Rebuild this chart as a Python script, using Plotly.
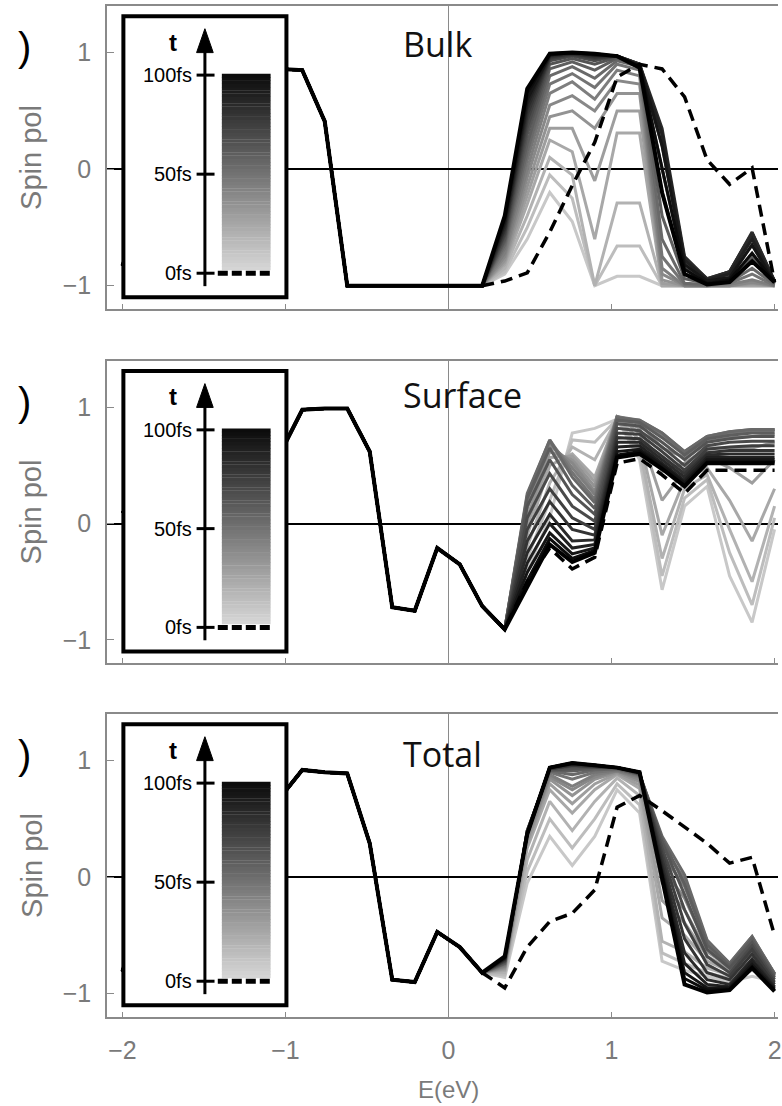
import plotly.graph_objects as go

# ---------------- data ----------------
E = [-2.0, -1.862, -1.724, -1.586, -1.448, -1.310, -1.172, -1.034, -0.897, -0.759,
     -0.621, -0.483, -0.345, -0.207, -0.069, 0.069, 0.207, 0.345, 0.483, 0.621,
     0.759, 0.897, 1.034, 1.172, 1.310, 1.448, 1.586, 1.724, 1.862, 2.0]

# common part (E <= 0.207), identical for all times
bulk_left = [-0.83, -0.30, 0.35, 0.70, 0.90, 0.93, 0.90, 0.86, 0.85, 0.41,
             -1.0, -1.0, -1.0, -1.0, -1.0, -1.0, -1.0]
surf_left = [0.09, 0.30, 0.55, 0.40, 0.20, 0.35, 0.50, 0.60, 0.98, 0.99,
             0.99, 0.62, -0.72, -0.75, -0.21, -0.35, -0.71]
tot_left = [-0.81, -0.20, 0.30, 0.50, 0.40, 0.50, 0.60, 0.68, 0.92, 0.90,
            0.89, 0.29, -0.88, -0.90, -0.47, -0.60, -0.82]

# time-dependent part (E = 0.345 ... 2.0), one row per time (fs)
times = [0, 5, 10, 15, 20, 25, 30, 35, 40, 45, 50, 55, 60, 65, 70, 75, 80, 85, 90, 95, 100]

bulk_right = [
    [-0.96, -0.89, -0.54, -0.14, 0.23, 0.79, 0.90, 0.86, 0.62, 0.08, -0.13, 0.01, -0.97],
    [-0.90, -0.60, -0.20, -0.45, -1.00, -0.92, -0.92, -1.00, -1.00, -1.00, -1.00, -1.00, -1.00],
    [-0.88, -0.50, -0.05, -0.25, -1.00, -0.66, -0.66, -1.00, -1.00, -1.00, -1.00, -1.00, -1.00],
    [-0.85, -0.40, 0.10, -0.05, -1.00, -0.29, -0.29, -1.00, -1.00, -1.00, -1.00, -1.00, -1.00],
    [-0.82, -0.30, 0.25, 0.15, -0.60, 0.31, 0.31, -1.00, -1.00, -1.00, -1.00, -1.00, -1.00],
    [-0.80, -0.22, 0.35, 0.35, -0.10, 0.50, 0.50, -0.98, -1.00, -1.00, -1.00, -0.99, -1.00],
    [-0.78, -0.15, 0.45, 0.50, 0.35, 0.65, 0.65, -0.95, -1.00, -1.00, -1.00, -0.98, -1.00],
    [-0.75, -0.07, 0.55, 0.63, 0.50, 0.76, 0.73, -0.90, -1.00, -1.00, -1.00, -0.97, -1.00],
    [-0.72, 0.00, 0.65, 0.75, 0.60, 0.85, 0.80, -0.85, -1.00, -1.00, -0.99, -0.95, -1.00],
    [-0.68, 0.08, 0.73, 0.82, 0.70, 0.90, 0.85, -0.75, -0.99, -1.00, -0.98, -0.90, -1.00],
    [-0.65, 0.15, 0.80, 0.88, 0.78, 0.93, 0.88, -0.60, -0.98, -0.99, -0.97, -0.85, -0.99],
    [-0.62, 0.22, 0.86, 0.92, 0.85, 0.95, 0.89, -0.40, -0.94, -0.98, -0.95, -0.75, -0.98],
    [-0.60, 0.30, 0.90, 0.95, 0.90, 0.96, 0.90, -0.20, -0.90, -0.97, -0.93, -0.65, -0.98],
    [-0.57, 0.36, 0.93, 0.97, 0.93, 0.97, 0.90, 0.00, -0.85, -0.96, -0.90, -0.58, -0.97],
    [-0.55, 0.42, 0.95, 0.98, 0.95, 0.97, 0.90, 0.20, -0.80, -0.95, -0.88, -0.55, -0.97],
    [-0.52, 0.47, 0.96, 0.99, 0.96, 0.97, 0.90, 0.30, -0.77, -0.94, -0.88, -0.54, -0.96],
    [-0.50, 0.52, 0.97, 0.99, 0.97, 0.97, 0.90, 0.35, -0.75, -0.94, -0.88, -0.55, -0.96],
    [-0.47, 0.56, 0.98, 1.00, 0.98, 0.97, 0.89, 0.30, -0.78, -0.95, -0.90, -0.60, -0.96],
    [-0.45, 0.60, 0.98, 1.00, 0.98, 0.97, 0.89, 0.20, -0.82, -0.96, -0.93, -0.65, -0.97],
    [-0.42, 0.65, 0.99, 1.00, 0.99, 0.97, 0.88, 0.00, -0.86, -0.98, -0.95, -0.72, -0.97],
    [-0.40, 0.69, 0.99, 1.00, 0.99, 0.97, 0.87, -0.20, -0.90, -0.99, -0.97, -0.79, -0.97],
]

surf_right = [
    [-0.91, -0.50, -0.21, -0.39, -0.29, 0.52, 0.56, 0.42, 0.26, 0.46, 0.46, 0.46, 0.46],
    [-0.91, -0.40, 0.05, 0.78, 0.82, 0.90, 0.55, -0.57, 0.15, 0.32, -0.45, -0.85, -0.05],
    [-0.91, -0.30, 0.20, 0.72, 0.70, 0.90, 0.60, -0.45, 0.22, 0.38, -0.25, -0.70, 0.05],
    [-0.91, -0.20, 0.35, 0.66, 0.55, 0.90, 0.65, -0.30, 0.30, 0.42, -0.05, -0.50, 0.15],
    [-0.91, -0.10, 0.50, 0.60, 0.40, 0.91, 0.72, -0.10, 0.38, 0.48, 0.20, -0.15, 0.30],
    [-0.91, -0.02, 0.57, 0.58, 0.36, 0.92, 0.78, 0.20, 0.46, 0.57, 0.48, 0.35, 0.55],
    [-0.91, 0.05, 0.62, 0.55, 0.32, 0.92, 0.82, 0.45, 0.52, 0.65, 0.65, 0.65, 0.70],
    [-0.91, 0.13, 0.67, 0.52, 0.28, 0.92, 0.86, 0.65, 0.57, 0.71, 0.74, 0.75, 0.77],
    [-0.91, 0.20, 0.70, 0.48, 0.25, 0.92, 0.88, 0.75, 0.60, 0.74, 0.78, 0.80, 0.80],
    [-0.91, 0.24, 0.72, 0.44, 0.21, 0.92, 0.89, 0.78, 0.62, 0.75, 0.79, 0.81, 0.81],
    [-0.91, 0.26, 0.72, 0.40, 0.18, 0.91, 0.89, 0.78, 0.62, 0.75, 0.79, 0.81, 0.81],
    [-0.91, 0.22, 0.65, 0.33, 0.13, 0.89, 0.87, 0.74, 0.59, 0.73, 0.76, 0.78, 0.78],
    [-0.91, 0.15, 0.55, 0.25, 0.08, 0.86, 0.84, 0.70, 0.55, 0.70, 0.73, 0.75, 0.75],
    [-0.91, 0.05, 0.43, 0.15, 0.02, 0.82, 0.80, 0.66, 0.50, 0.67, 0.70, 0.71, 0.71],
    [-0.91, -0.05, 0.30, 0.05, -0.05, 0.78, 0.77, 0.62, 0.46, 0.64, 0.66, 0.67, 0.67],
    [-0.91, -0.15, 0.19, -0.05, -0.10, 0.74, 0.73, 0.58, 0.43, 0.61, 0.63, 0.63, 0.63],
    [-0.91, -0.25, 0.08, -0.15, -0.14, 0.70, 0.70, 0.55, 0.40, 0.59, 0.60, 0.60, 0.60],
    [-0.91, -0.34, 0.00, -0.21, -0.18, 0.66, 0.67, 0.52, 0.37, 0.57, 0.57, 0.57, 0.57],
    [-0.91, -0.42, -0.08, -0.26, -0.21, 0.62, 0.64, 0.50, 0.35, 0.55, 0.55, 0.55, 0.55],
    [-0.91, -0.49, -0.13, -0.30, -0.23, 0.59, 0.62, 0.48, 0.33, 0.53, 0.53, 0.53, 0.53],
    [-0.91, -0.55, -0.18, -0.33, -0.25, 0.57, 0.60, 0.47, 0.32, 0.52, 0.52, 0.52, 0.52],
]

tot_right = [
    [-0.95, -0.60, -0.38, -0.31, -0.11, 0.60, 0.70, 0.57, 0.43, 0.29, 0.12, 0.17, -0.50],
    [-0.86, -0.05, 0.35, 0.10, 0.35, 0.75, 0.55, -0.72, -0.80, -0.85, -0.90, -0.85, -0.90],
    [-0.84, 0.05, 0.50, 0.25, 0.50, 0.80, 0.62, -0.65, -0.74, -0.82, -0.87, -0.80, -0.88],
    [-0.82, 0.15, 0.65, 0.40, 0.65, 0.85, 0.70, -0.55, -0.64, -0.78, -0.84, -0.72, -0.87],
    [-0.80, 0.25, 0.75, 0.55, 0.75, 0.88, 0.76, -0.35, -0.50, -0.72, -0.81, -0.64, -0.86],
    [-0.79, 0.29, 0.80, 0.63, 0.80, 0.89, 0.79, -0.20, -0.39, -0.68, -0.79, -0.60, -0.85],
    [-0.78, 0.32, 0.84, 0.70, 0.84, 0.90, 0.82, -0.05, -0.28, -0.64, -0.77, -0.56, -0.84],
    [-0.77, 0.35, 0.86, 0.75, 0.86, 0.91, 0.84, 0.08, -0.18, -0.60, -0.76, -0.54, -0.83],
    [-0.76, 0.38, 0.88, 0.78, 0.88, 0.91, 0.86, 0.20, -0.08, -0.56, -0.75, -0.52, -0.83],
    [-0.75, 0.39, 0.90, 0.84, 0.90, 0.92, 0.87, 0.28, -0.02, -0.55, -0.74, -0.51, -0.83],
    [-0.74, 0.40, 0.91, 0.88, 0.92, 0.93, 0.88, 0.35, 0.02, -0.54, -0.74, -0.51, -0.83],
    [-0.74, 0.40, 0.92, 0.91, 0.93, 0.93, 0.88, 0.33, -0.06, -0.58, -0.76, -0.53, -0.84],
    [-0.73, 0.40, 0.92, 0.93, 0.94, 0.94, 0.89, 0.30, -0.15, -0.62, -0.78, -0.56, -0.86],
    [-0.72, 0.39, 0.93, 0.95, 0.94, 0.94, 0.89, 0.25, -0.28, -0.68, -0.82, -0.59, -0.88],
    [-0.72, 0.39, 0.93, 0.96, 0.95, 0.94, 0.89, 0.20, -0.40, -0.75, -0.85, -0.62, -0.90],
    [-0.71, 0.38, 0.93, 0.96, 0.95, 0.94, 0.90, 0.15, -0.53, -0.82, -0.88, -0.66, -0.92],
    [-0.70, 0.38, 0.94, 0.97, 0.96, 0.94, 0.90, 0.10, -0.65, -0.88, -0.92, -0.70, -0.94],
    [-0.70, 0.37, 0.94, 0.97, 0.96, 0.94, 0.90, 0.06, -0.74, -0.92, -0.94, -0.72, -0.95],
    [-0.69, 0.37, 0.94, 0.98, 0.96, 0.94, 0.90, 0.03, -0.82, -0.95, -0.95, -0.75, -0.96],
    [-0.69, 0.37, 0.94, 0.98, 0.96, 0.94, 0.90, 0.00, -0.87, -0.97, -0.96, -0.77, -0.97],
    [-0.68, 0.37, 0.94, 0.98, 0.96, 0.94, 0.90, -0.03, -0.92, -0.99, -0.97, -0.78, -0.98],
]

titles = ["Bulk", "Surface", "Total"]
title_y = [1.07, 1.11, 1.06]
x_ticks = [-2, -1, 0, 1, 2]
x_ticktext = ["\u22122", "\u22121", "0", "1", "2"]
y_ticks = [-1, 0, 1]
y_ticktext = ["\u22121", "0", "1"]
legend_ticks = [0, 50, 100]
legend_labels = ["0fs", "50fs", "100fs"]

# ---------------- figure ----------------
GRAY_AX = "#8a8a8a"
TXT_GRAY = "#7a7a7a"


def gray_for(t):
    v = int(round(210 * (1 - t / 100.0)))
    return f"rgb({v},{v},{v})"


fig = go.Figure()
panels = [(bulk_left, bulk_right), (surf_left, surf_right), (tot_left, tot_right)]
domains = [[0.7003, 1.0], [0.3501, 0.6489], [0.0, 0.2997]]

for i, (left, right) in enumerate(panels):
    xa = "x" if i == 0 else f"x{i+1}"
    ya = "y" if i == 0 else f"y{i+1}"
    # intermediate times, light -> dark
    for t, vals in zip(times[1:-1], right[1:-1]):
        fig.add_trace(go.Scatter(x=E, y=left + vals, mode="lines",
                                 line=dict(color=gray_for(t), width=3),
                                 xaxis=xa, yaxis=ya, showlegend=False, hoverinfo="skip"))
    # final (100 fs) black
    fig.add_trace(go.Scatter(x=E, y=left + right[-1], mode="lines",
                             line=dict(color="black", width=4),
                             xaxis=xa, yaxis=ya, showlegend=False, hoverinfo="skip"))
    # initial (0 fs) dashed
    fig.add_trace(go.Scatter(x=E[16:], y=(left + right[0])[16:], mode="lines",
                             line=dict(color="black", width=3.5, dash="12px,7px"),
                             xaxis=xa, yaxis=ya, showlegend=False, hoverinfo="skip"))

    xkey = "xaxis" if i == 0 else f"xaxis{i+1}"
    ykey = "yaxis" if i == 0 else f"yaxis{i+1}"
    fig.layout[xkey] = dict(
        domain=[0, 1], anchor=ya, range=[-2.0945, 2.021],
        showline=True, linecolor=GRAY_AX, linewidth=1.5, mirror=True,
        ticks="inside", ticklen=5, tickcolor=GRAY_AX, tickwidth=1,
        tickvals=x_ticks, ticktext=x_ticktext, showticklabels=(i == 2),
        tickfont=dict(family="Liberation Sans, Arial", size=25, color=TXT_GRAY),
        ticklabelstandoff=10, ticklabeloverflow="allow",
        zeroline=True, zerolinecolor=GRAY_AX, zerolinewidth=1.2,
        showgrid=False, fixedrange=True)
    fig.layout[ykey] = dict(
        domain=domains[i], anchor=xa, range=[-1.2, 1.4],
        showline=True, linecolor=GRAY_AX, linewidth=1.5, mirror=False,
        ticks="inside", ticklen=7, tickcolor=GRAY_AX, tickwidth=1,
        tickvals=y_ticks, ticktext=y_ticktext,
        tickfont=dict(family="Liberation Sans, Arial", size=25, color=TXT_GRAY),
        ticklabelstandoff=9,
        zeroline=True, zerolinecolor="black", zerolinewidth=1.6,
        showgrid=False, fixedrange=True)

    # ---------- inset legend ----------
    fig.add_shape(type="rect", xref=xa, yref=ya, x0=-1.994, x1=-0.994, y0=-1.10, y1=1.313,
                  fillcolor="white", line=dict(color="black", width=4), layer="above")
    nseg = 60
    y_lo, y_hi = -0.867, 0.815
    for k in range(nseg):
        f0 = k / nseg
        f1 = (k + 1) / nseg
        v = int(round(215 - 205 * (f0 + f1) / 2))
        fig.add_shape(type="rect", xref=xa, yref=ya, x0=-1.39, x1=-1.091,
                      y0=y_lo + (y_hi - y_lo) * f0, y1=y_lo + (y_hi - y_lo) * f1 + 0.003,
                      fillcolor=f"rgb({v},{v},{v})", line=dict(width=0), layer="above")
    # time axis with arrow
    fig.add_shape(type="line", xref=xa, yref=ya, x0=-1.494, x1=-1.494, y0=-1.004, y1=1.03,
                  line=dict(color="black", width=3), layer="above")
    fig.add_shape(type="path", xref=xa, yref=ya,
                  path="M -1.494 1.205 L -1.545 1.0 L -1.443 1.0 Z",
                  fillcolor="black", line=dict(color="black", width=1), layer="above")
    for tk, lab in zip(legend_ticks, legend_labels):
        yv = -0.893 + (0.807 + 0.893) * tk / 100.0
        fig.add_shape(type="line", xref=xa, yref=ya, x0=-1.545, x1=-1.435, y0=yv, y1=yv,
                      line=dict(color="black", width=3), layer="above")
        fig.add_annotation(x=-1.562, y=yv, xref=xa, yref=ya, text=lab, showarrow=False,
                           xanchor="right", yanchor="middle",
                           font=dict(family="Liberation Sans, Arial", size=20, color="black"))
    fig.add_shape(type="line", xref=xa, yref=ya, x0=-1.415, x1=-1.085, y0=-0.893, y1=-0.893,
                  line=dict(color="black", width=5, dash="10px,4px"), layer="above")
    fig.add_annotation(x=-1.689, y=1.09, xref=xa, yref=ya, text="<b>t</b>", showarrow=False,
                       xanchor="center", yanchor="middle",
                       font=dict(family="Liberation Sans, Arial", size=24, color="black"))

    # panel title
    fig.add_annotation(x=-0.293, y=title_y[i], xref=xa, yref=ya, text=titles[i], showarrow=False,
                       xanchor="left", yanchor="middle",
                       font=dict(family="Open Sans, Arial", size=34, color="#111111"))
    # y label
    mid = (domains[i][0] + domains[i][1]) / 2
    fig.add_annotation(x=-0.1126, y=mid, xref="paper", yref="paper", text="Spin pol",
                       textangle=-90, showarrow=False, xanchor="center", yanchor="middle",
                       font=dict(family="Liberation Sans, Arial", size=29, color=TXT_GRAY))
    # cut-off panel label
    fig.add_annotation(x=-0.111, y=domains[i][1] - 0.041, xref="paper", yref="paper", text=")",
                       showarrow=False, xanchor="right", yanchor="middle",
                       font=dict(family="Liberation Sans, Arial", size=40, color="black"))

fig.add_annotation(x=0.0, y=-0.072, xref="x3", yref="paper", text="E(eV)", showarrow=False,
                   xanchor="center", yanchor="middle",
                   font=dict(family="Liberation Sans, Arial", size=24, color=TXT_GRAY))

fig.update_layout(width=782, height=1106, margin=dict(l=107, r=0, t=6, b=89),
                  paper_bgcolor="white", plot_bgcolor="white", showlegend=False)

fig.write_html("out.html")
